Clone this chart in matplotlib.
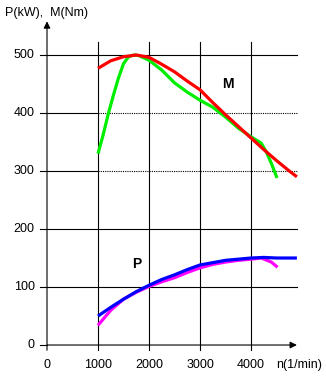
import matplotlib.pyplot as plt

plt.rcParams['font.family'] = ['Liberation Sans', 'DejaVu Sans']

# Engine speed (1/min) and curves
n_m_red = [1000, 1250, 1500, 1750, 2000, 2250, 2500, 2750, 3000, 3250, 3500, 3750, 4000, 4250, 4500, 4750, 4900]
m_red = [477, 490, 497, 500, 496, 484, 471, 455, 440, 418, 397, 377, 357, 337, 318, 300, 290]

n_m_green = [1000, 1100, 1200, 1300, 1400, 1500, 1600, 1700, 1800, 2000, 2250, 2500, 2750, 3000, 3250, 3500, 3750, 4000, 4200, 4300, 4400, 4510]
m_green = [330, 362, 398, 430, 460, 485, 497, 500, 499, 491, 474, 452, 436, 422, 410, 393, 374, 359, 348, 333, 313, 288]

n_p_blue = [1000, 1250, 1500, 1750, 2000, 2250, 2500, 2750, 3000, 3250, 3500, 3750, 4000, 4250, 4500, 4900]
p_blue = [50, 65, 79, 92, 103, 113, 121, 130, 138, 142, 146, 148, 150, 151, 150, 150]

n_p_mag = [1000, 1250, 1500, 1750, 2000, 2250, 2500, 2750, 3000, 3250, 3500, 3750, 4000, 4200, 4400, 4520]
p_mag = [34, 60, 79, 91, 101, 109, 116, 125, 133, 139, 143, 146, 148, 150, 143, 134]

x_ticks = [0, 1000, 2000, 3000, 4000]
y_ticks = [0, 100, 200, 300, 400, 500]

fig = plt.figure(figsize=(3.26, 3.84), dpi=100)
ax = fig.add_axes([0, 0, 1, 1])
ax.set_xlim(-921.6, 5470.6)
ax.set_ylim(-67.2, 594.8)
ax.axis('off')

# grid
for y in y_ticks[1:]:
    if y in (300, 400):
        ax.plot([-140, 1000], [y, y], color='black', lw=0.8)
        ax.plot([1000, 4900], [y, y], color='black', lw=0.8, ls=(0, (1, 1)))
    else:
        ax.plot([-140, 4900], [y, y], color='black', lw=0.8)
for x in x_ticks[1:]:
    ax.plot([x, x], [-9, 522], color='black', lw=0.8)

# axes with arrows
ax.plot([-140, 0], [0, 0], color='black', lw=0.8)
ax.annotate('', xy=(0, 558), xytext=(0, -9),
            arrowprops=dict(arrowstyle='-|>', color='black', lw=0.8,
                            mutation_scale=10, shrinkA=0, shrinkB=0))
ax.annotate('', xy=(4900, 0), xytext=(0, 0),
            arrowprops=dict(arrowstyle='-|>', color='black', lw=0.8,
                            mutation_scale=10, shrinkA=0, shrinkB=0))

# curves
ax.plot(n_m_green, m_green, color='#00ee00', lw=2.3, solid_capstyle='butt')
ax.plot(n_m_red, m_red, color='#ff0000', lw=2.3, solid_capstyle='butt')
ax.plot(n_p_mag, p_mag, color='#ff00ff', lw=2.3, solid_capstyle='butt')
ax.plot(n_p_blue, p_blue, color='#0000ff', lw=2.3, solid_capstyle='butt')

# tick labels
for y in y_ticks:
    ax.text(-240, y, str(y), ha='right', va='center', fontsize=9)
for x in x_ticks:
    ax.text(x, -35, str(x), ha='center', va='center', fontsize=9)
ax.text(5400, -35, 'n(1/min)', ha='right', va='center', fontsize=9)
ax.text(-820, 572, 'P(kW),  M(Nm)', ha='left', va='center', fontsize=9)

ax.text(3550, 450, 'M', ha='center', va='center', fontsize=10, fontweight='bold')
ax.text(1750, 140, 'P', ha='center', va='center', fontsize=10, fontweight='bold')

fig.savefig('out.png', dpi=100)
